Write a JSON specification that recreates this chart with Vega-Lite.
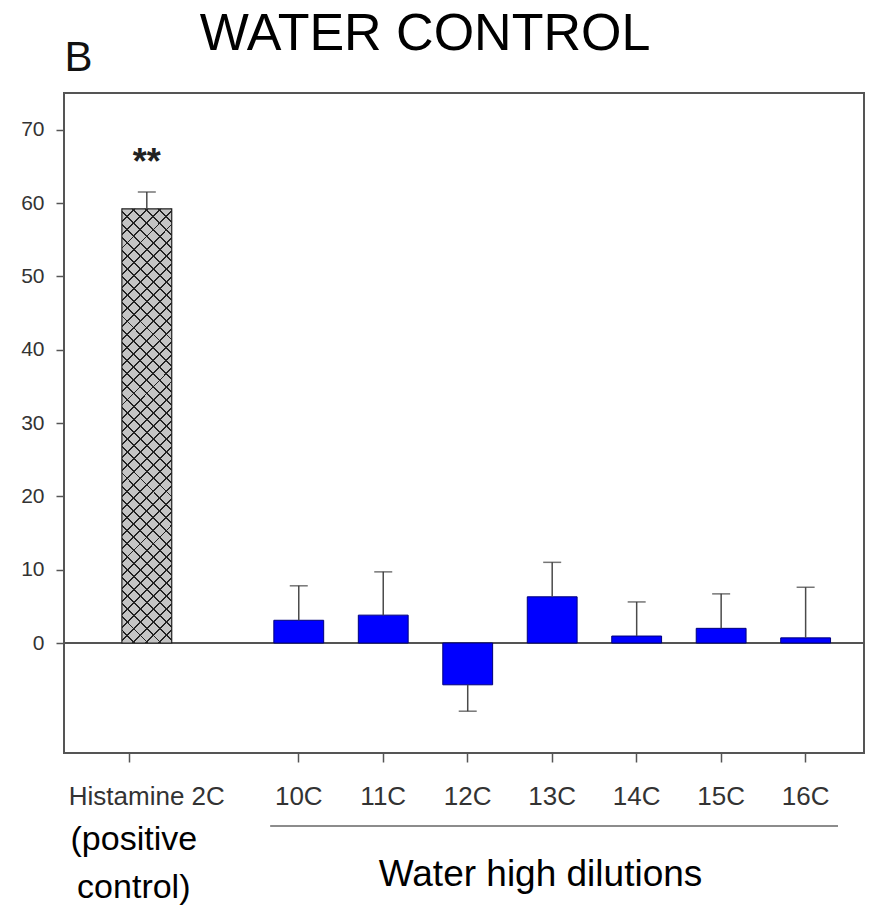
{
  "$schema": "https://vega.github.io/schema/vega-lite/v6.json",
  "width": 800,
  "height": 660,
  "autosize": {"type": "none"},
  "padding": {"left": 64, "top": 93, "right": 5, "bottom": 157},
  "background": "white",
  "title": {"text": "WATER CONTROL", "fontSize": 52, "font": "Liberation Sans", "fontWeight": "normal", "color": "black", "anchor": "middle", "frame": "group", "dx": -39, "offset": -66, "baseline": "alphabetic"},
  "config": {
    "view": {"stroke": "#555555", "strokeWidth": 2},
    "font": "Liberation Sans"
  },
  "data": {"values": [
    {"dilution": "Histamine 2C", "group": "positive", "mean": 59.2, "errEnd": 61.5, "sig": "**", "note": ["(positive", "control)"]},
    {"dilution": "10C", "group": "water", "mean": 3.1, "errEnd": 7.8, "sig": "", "note": ""},
    {"dilution": "11C", "group": "water", "mean": 3.8, "errEnd": 9.7, "sig": "", "note": ""},
    {"dilution": "12C", "group": "water", "mean": -5.7, "errEnd": -9.3, "sig": "", "note": ""},
    {"dilution": "13C", "group": "water", "mean": 6.3, "errEnd": 11.0, "sig": "", "note": ""},
    {"dilution": "14C", "group": "water", "mean": 0.95, "errEnd": 5.6, "sig": "", "note": ""},
    {"dilution": "15C", "group": "water", "mean": 2.0, "errEnd": 6.7, "sig": "", "note": ""},
    {"dilution": "16C", "group": "water", "mean": 0.7, "errEnd": 7.6, "sig": "", "note": ""}
  ]},
  "encoding": {
    "x": {
      "field": "dilution", "type": "nominal",
      "scale": {"domain": ["Histamine 2C", " ", "10C", "11C", "12C", "13C", "14C", "15C", "16C"], "paddingInner": 0.41, "paddingOuter": 0.44, "align": 0.55},
      "axis": {
        "title": "Water high dilutions", "titleFontSize": 37, "titleFontWeight": "normal", "titleColor": "black", "titleX": 476, "titleY": 132, "titleBaseline": "alphabetic", "titleAlign": "center",
        "domain": false, "tickSize": 9, "tickWidth": 1.5, "tickColor": "#555555",
        "tickOpacity": {"condition": {"test": "datum.value === ' '", "value": 0}, "value": 1},
        "labelFontSize": 26, "labelColor": "#333333", "labelAngle": 0, "labelPadding": 21, "labelOverlap": false, "labelBound": false, "labelLimit": 0,
        "labelOffset": {"condition": {"test": "datum.value === 'Histamine 2C'", "value": 17}, "value": 0}
      }
    },
    "y": {
      "field": "mean", "type": "quantitative",
      "scale": {"domain": [-15, 75], "nice": false, "zero": false},
      "axis": {
        "values": [0, 10, 20, 30, 40, 50, 60, 70], "grid": false, "domain": false,
        "tickSize": 8, "tickWidth": 1.5, "tickColor": "#555555",
        "labelFontSize": 21, "labelColor": "#333333", "labelPadding": 12,
        "title": "B", "titleAngle": 0, "titleFontSize": 42, "titleFontWeight": "normal", "titleColor": "#111111", "titleX": 14, "titleY": -23, "titleAlign": "center", "titleBaseline": "alphabetic"
      }
    }
  },
  "layer": [
    {
      "mark": {"type": "rule", "color": "#555555", "strokeWidth": 1.5},
      "encoding": {"x": null, "y": {"datum": 0, "type": "quantitative"}}
    },
    {
      "transform": [{"filter": "datum.group === 'water'"}],
      "mark": {"type": "bar", "fill": "#0000ff", "stroke": "#00007a", "strokeWidth": 1}
    },
    {
      "transform": [{"filter": "datum.group === 'positive'"}],
      "mark": {"type": "bar", "strokeWidth": 0, "xOffset": 17,
        "fill": {"gradient": "linear", "x1": 0, "y1": 0, "x2": 0.1268, "y2": 1.1006, "stops": [
          {"offset": 0, "color": "#222222"}, {"offset": 0.002, "color": "#222222"}, {"offset": 0.002, "color": "#c4c4c4"},
          {"offset": 0.02503, "color": "#c4c4c4"}, {"offset": 0.02503, "color": "#222222"}, {"offset": 0.02903, "color": "#222222"}, {"offset": 0.02903, "color": "#c4c4c4"},
          {"offset": 0.05205, "color": "#c4c4c4"}, {"offset": 0.05205, "color": "#222222"}, {"offset": 0.05605, "color": "#222222"}, {"offset": 0.05605, "color": "#c4c4c4"},
          {"offset": 0.07908, "color": "#c4c4c4"}, {"offset": 0.07908, "color": "#222222"}, {"offset": 0.08308, "color": "#222222"}, {"offset": 0.08308, "color": "#c4c4c4"},
          {"offset": 0.10611, "color": "#c4c4c4"}, {"offset": 0.10611, "color": "#222222"}, {"offset": 0.11011, "color": "#222222"}, {"offset": 0.11011, "color": "#c4c4c4"},
          {"offset": 0.13314, "color": "#c4c4c4"}, {"offset": 0.13314, "color": "#222222"}, {"offset": 0.13714, "color": "#222222"}, {"offset": 0.13714, "color": "#c4c4c4"},
          {"offset": 0.16016, "color": "#c4c4c4"}, {"offset": 0.16016, "color": "#222222"}, {"offset": 0.16416, "color": "#222222"}, {"offset": 0.16416, "color": "#c4c4c4"},
          {"offset": 0.18719, "color": "#c4c4c4"}, {"offset": 0.18719, "color": "#222222"}, {"offset": 0.19119, "color": "#222222"}, {"offset": 0.19119, "color": "#c4c4c4"},
          {"offset": 0.21422, "color": "#c4c4c4"}, {"offset": 0.21422, "color": "#222222"}, {"offset": 0.21822, "color": "#222222"}, {"offset": 0.21822, "color": "#c4c4c4"},
          {"offset": 0.24124, "color": "#c4c4c4"}, {"offset": 0.24124, "color": "#222222"}, {"offset": 0.24524, "color": "#222222"}, {"offset": 0.24524, "color": "#c4c4c4"},
          {"offset": 0.26827, "color": "#c4c4c4"}, {"offset": 0.26827, "color": "#222222"}, {"offset": 0.27227, "color": "#222222"}, {"offset": 0.27227, "color": "#c4c4c4"},
          {"offset": 0.2953, "color": "#c4c4c4"}, {"offset": 0.2953, "color": "#222222"}, {"offset": 0.2993, "color": "#222222"}, {"offset": 0.2993, "color": "#c4c4c4"},
          {"offset": 0.32232, "color": "#c4c4c4"}, {"offset": 0.32232, "color": "#222222"}, {"offset": 0.32632, "color": "#222222"}, {"offset": 0.32632, "color": "#c4c4c4"},
          {"offset": 0.34935, "color": "#c4c4c4"}, {"offset": 0.34935, "color": "#222222"}, {"offset": 0.35335, "color": "#222222"}, {"offset": 0.35335, "color": "#c4c4c4"},
          {"offset": 0.37638, "color": "#c4c4c4"}, {"offset": 0.37638, "color": "#222222"}, {"offset": 0.38038, "color": "#222222"}, {"offset": 0.38038, "color": "#c4c4c4"},
          {"offset": 0.40341, "color": "#c4c4c4"}, {"offset": 0.40341, "color": "#222222"}, {"offset": 0.40741, "color": "#222222"}, {"offset": 0.40741, "color": "#c4c4c4"},
          {"offset": 0.43043, "color": "#c4c4c4"}, {"offset": 0.43043, "color": "#222222"}, {"offset": 0.43443, "color": "#222222"}, {"offset": 0.43443, "color": "#c4c4c4"},
          {"offset": 0.45746, "color": "#c4c4c4"}, {"offset": 0.45746, "color": "#222222"}, {"offset": 0.46146, "color": "#222222"}, {"offset": 0.46146, "color": "#c4c4c4"},
          {"offset": 0.48449, "color": "#c4c4c4"}, {"offset": 0.48449, "color": "#222222"}, {"offset": 0.48849, "color": "#222222"}, {"offset": 0.48849, "color": "#c4c4c4"},
          {"offset": 0.51151, "color": "#c4c4c4"}, {"offset": 0.51151, "color": "#222222"}, {"offset": 0.51551, "color": "#222222"}, {"offset": 0.51551, "color": "#c4c4c4"},
          {"offset": 0.53854, "color": "#c4c4c4"}, {"offset": 0.53854, "color": "#222222"}, {"offset": 0.54254, "color": "#222222"}, {"offset": 0.54254, "color": "#c4c4c4"},
          {"offset": 0.56557, "color": "#c4c4c4"}, {"offset": 0.56557, "color": "#222222"}, {"offset": 0.56957, "color": "#222222"}, {"offset": 0.56957, "color": "#c4c4c4"},
          {"offset": 0.59259, "color": "#c4c4c4"}, {"offset": 0.59259, "color": "#222222"}, {"offset": 0.59659, "color": "#222222"}, {"offset": 0.59659, "color": "#c4c4c4"},
          {"offset": 0.61962, "color": "#c4c4c4"}, {"offset": 0.61962, "color": "#222222"}, {"offset": 0.62362, "color": "#222222"}, {"offset": 0.62362, "color": "#c4c4c4"},
          {"offset": 0.64665, "color": "#c4c4c4"}, {"offset": 0.64665, "color": "#222222"}, {"offset": 0.65065, "color": "#222222"}, {"offset": 0.65065, "color": "#c4c4c4"},
          {"offset": 0.67368, "color": "#c4c4c4"}, {"offset": 0.67368, "color": "#222222"}, {"offset": 0.67768, "color": "#222222"}, {"offset": 0.67768, "color": "#c4c4c4"},
          {"offset": 0.7007, "color": "#c4c4c4"}, {"offset": 0.7007, "color": "#222222"}, {"offset": 0.7047, "color": "#222222"}, {"offset": 0.7047, "color": "#c4c4c4"},
          {"offset": 0.72773, "color": "#c4c4c4"}, {"offset": 0.72773, "color": "#222222"}, {"offset": 0.73173, "color": "#222222"}, {"offset": 0.73173, "color": "#c4c4c4"},
          {"offset": 0.75476, "color": "#c4c4c4"}, {"offset": 0.75476, "color": "#222222"}, {"offset": 0.75876, "color": "#222222"}, {"offset": 0.75876, "color": "#c4c4c4"},
          {"offset": 0.78178, "color": "#c4c4c4"}, {"offset": 0.78178, "color": "#222222"}, {"offset": 0.78578, "color": "#222222"}, {"offset": 0.78578, "color": "#c4c4c4"},
          {"offset": 0.80881, "color": "#c4c4c4"}, {"offset": 0.80881, "color": "#222222"}, {"offset": 0.81281, "color": "#222222"}, {"offset": 0.81281, "color": "#c4c4c4"},
          {"offset": 0.83584, "color": "#c4c4c4"}, {"offset": 0.83584, "color": "#222222"}, {"offset": 0.83984, "color": "#222222"}, {"offset": 0.83984, "color": "#c4c4c4"},
          {"offset": 0.86286, "color": "#c4c4c4"}, {"offset": 0.86286, "color": "#222222"}, {"offset": 0.86686, "color": "#222222"}, {"offset": 0.86686, "color": "#c4c4c4"},
          {"offset": 0.88989, "color": "#c4c4c4"}, {"offset": 0.88989, "color": "#222222"}, {"offset": 0.89389, "color": "#222222"}, {"offset": 0.89389, "color": "#c4c4c4"},
          {"offset": 0.91692, "color": "#c4c4c4"}, {"offset": 0.91692, "color": "#222222"}, {"offset": 0.92092, "color": "#222222"}, {"offset": 0.92092, "color": "#c4c4c4"},
          {"offset": 0.94395, "color": "#c4c4c4"}, {"offset": 0.94395, "color": "#222222"}, {"offset": 0.94795, "color": "#222222"}, {"offset": 0.94795, "color": "#c4c4c4"},
          {"offset": 0.97097, "color": "#c4c4c4"}, {"offset": 0.97097, "color": "#222222"}, {"offset": 0.97497, "color": "#222222"}, {"offset": 0.97497, "color": "#c4c4c4"},
          {"offset": 0.998, "color": "#c4c4c4"}, {"offset": 0.998, "color": "#222222"}, {"offset": 1, "color": "#222222"}
        ]}}
    },
    {
      "transform": [{"filter": "datum.group === 'positive'"}],
      "mark": {"type": "bar", "stroke": "#222222", "strokeWidth": 1.2, "xOffset": 17,
        "fill": {"gradient": "linear", "x1": 0, "y1": 1, "x2": 0.1268, "y2": -0.1006, "stops": [
          {"offset": 0, "color": "#222222"}, {"offset": 0.002, "color": "#222222"}, {"offset": 0.002, "color": "rgba(0,0,0,0)"},
          {"offset": 0.02503, "color": "rgba(0,0,0,0)"}, {"offset": 0.02503, "color": "#222222"}, {"offset": 0.02903, "color": "#222222"}, {"offset": 0.02903, "color": "rgba(0,0,0,0)"},
          {"offset": 0.05205, "color": "rgba(0,0,0,0)"}, {"offset": 0.05205, "color": "#222222"}, {"offset": 0.05605, "color": "#222222"}, {"offset": 0.05605, "color": "rgba(0,0,0,0)"},
          {"offset": 0.07908, "color": "rgba(0,0,0,0)"}, {"offset": 0.07908, "color": "#222222"}, {"offset": 0.08308, "color": "#222222"}, {"offset": 0.08308, "color": "rgba(0,0,0,0)"},
          {"offset": 0.10611, "color": "rgba(0,0,0,0)"}, {"offset": 0.10611, "color": "#222222"}, {"offset": 0.11011, "color": "#222222"}, {"offset": 0.11011, "color": "rgba(0,0,0,0)"},
          {"offset": 0.13314, "color": "rgba(0,0,0,0)"}, {"offset": 0.13314, "color": "#222222"}, {"offset": 0.13714, "color": "#222222"}, {"offset": 0.13714, "color": "rgba(0,0,0,0)"},
          {"offset": 0.16016, "color": "rgba(0,0,0,0)"}, {"offset": 0.16016, "color": "#222222"}, {"offset": 0.16416, "color": "#222222"}, {"offset": 0.16416, "color": "rgba(0,0,0,0)"},
          {"offset": 0.18719, "color": "rgba(0,0,0,0)"}, {"offset": 0.18719, "color": "#222222"}, {"offset": 0.19119, "color": "#222222"}, {"offset": 0.19119, "color": "rgba(0,0,0,0)"},
          {"offset": 0.21422, "color": "rgba(0,0,0,0)"}, {"offset": 0.21422, "color": "#222222"}, {"offset": 0.21822, "color": "#222222"}, {"offset": 0.21822, "color": "rgba(0,0,0,0)"},
          {"offset": 0.24124, "color": "rgba(0,0,0,0)"}, {"offset": 0.24124, "color": "#222222"}, {"offset": 0.24524, "color": "#222222"}, {"offset": 0.24524, "color": "rgba(0,0,0,0)"},
          {"offset": 0.26827, "color": "rgba(0,0,0,0)"}, {"offset": 0.26827, "color": "#222222"}, {"offset": 0.27227, "color": "#222222"}, {"offset": 0.27227, "color": "rgba(0,0,0,0)"},
          {"offset": 0.2953, "color": "rgba(0,0,0,0)"}, {"offset": 0.2953, "color": "#222222"}, {"offset": 0.2993, "color": "#222222"}, {"offset": 0.2993, "color": "rgba(0,0,0,0)"},
          {"offset": 0.32232, "color": "rgba(0,0,0,0)"}, {"offset": 0.32232, "color": "#222222"}, {"offset": 0.32632, "color": "#222222"}, {"offset": 0.32632, "color": "rgba(0,0,0,0)"},
          {"offset": 0.34935, "color": "rgba(0,0,0,0)"}, {"offset": 0.34935, "color": "#222222"}, {"offset": 0.35335, "color": "#222222"}, {"offset": 0.35335, "color": "rgba(0,0,0,0)"},
          {"offset": 0.37638, "color": "rgba(0,0,0,0)"}, {"offset": 0.37638, "color": "#222222"}, {"offset": 0.38038, "color": "#222222"}, {"offset": 0.38038, "color": "rgba(0,0,0,0)"},
          {"offset": 0.40341, "color": "rgba(0,0,0,0)"}, {"offset": 0.40341, "color": "#222222"}, {"offset": 0.40741, "color": "#222222"}, {"offset": 0.40741, "color": "rgba(0,0,0,0)"},
          {"offset": 0.43043, "color": "rgba(0,0,0,0)"}, {"offset": 0.43043, "color": "#222222"}, {"offset": 0.43443, "color": "#222222"}, {"offset": 0.43443, "color": "rgba(0,0,0,0)"},
          {"offset": 0.45746, "color": "rgba(0,0,0,0)"}, {"offset": 0.45746, "color": "#222222"}, {"offset": 0.46146, "color": "#222222"}, {"offset": 0.46146, "color": "rgba(0,0,0,0)"},
          {"offset": 0.48449, "color": "rgba(0,0,0,0)"}, {"offset": 0.48449, "color": "#222222"}, {"offset": 0.48849, "color": "#222222"}, {"offset": 0.48849, "color": "rgba(0,0,0,0)"},
          {"offset": 0.51151, "color": "rgba(0,0,0,0)"}, {"offset": 0.51151, "color": "#222222"}, {"offset": 0.51551, "color": "#222222"}, {"offset": 0.51551, "color": "rgba(0,0,0,0)"},
          {"offset": 0.53854, "color": "rgba(0,0,0,0)"}, {"offset": 0.53854, "color": "#222222"}, {"offset": 0.54254, "color": "#222222"}, {"offset": 0.54254, "color": "rgba(0,0,0,0)"},
          {"offset": 0.56557, "color": "rgba(0,0,0,0)"}, {"offset": 0.56557, "color": "#222222"}, {"offset": 0.56957, "color": "#222222"}, {"offset": 0.56957, "color": "rgba(0,0,0,0)"},
          {"offset": 0.59259, "color": "rgba(0,0,0,0)"}, {"offset": 0.59259, "color": "#222222"}, {"offset": 0.59659, "color": "#222222"}, {"offset": 0.59659, "color": "rgba(0,0,0,0)"},
          {"offset": 0.61962, "color": "rgba(0,0,0,0)"}, {"offset": 0.61962, "color": "#222222"}, {"offset": 0.62362, "color": "#222222"}, {"offset": 0.62362, "color": "rgba(0,0,0,0)"},
          {"offset": 0.64665, "color": "rgba(0,0,0,0)"}, {"offset": 0.64665, "color": "#222222"}, {"offset": 0.65065, "color": "#222222"}, {"offset": 0.65065, "color": "rgba(0,0,0,0)"},
          {"offset": 0.67368, "color": "rgba(0,0,0,0)"}, {"offset": 0.67368, "color": "#222222"}, {"offset": 0.67768, "color": "#222222"}, {"offset": 0.67768, "color": "rgba(0,0,0,0)"},
          {"offset": 0.7007, "color": "rgba(0,0,0,0)"}, {"offset": 0.7007, "color": "#222222"}, {"offset": 0.7047, "color": "#222222"}, {"offset": 0.7047, "color": "rgba(0,0,0,0)"},
          {"offset": 0.72773, "color": "rgba(0,0,0,0)"}, {"offset": 0.72773, "color": "#222222"}, {"offset": 0.73173, "color": "#222222"}, {"offset": 0.73173, "color": "rgba(0,0,0,0)"},
          {"offset": 0.75476, "color": "rgba(0,0,0,0)"}, {"offset": 0.75476, "color": "#222222"}, {"offset": 0.75876, "color": "#222222"}, {"offset": 0.75876, "color": "rgba(0,0,0,0)"},
          {"offset": 0.78178, "color": "rgba(0,0,0,0)"}, {"offset": 0.78178, "color": "#222222"}, {"offset": 0.78578, "color": "#222222"}, {"offset": 0.78578, "color": "rgba(0,0,0,0)"},
          {"offset": 0.80881, "color": "rgba(0,0,0,0)"}, {"offset": 0.80881, "color": "#222222"}, {"offset": 0.81281, "color": "#222222"}, {"offset": 0.81281, "color": "rgba(0,0,0,0)"},
          {"offset": 0.83584, "color": "rgba(0,0,0,0)"}, {"offset": 0.83584, "color": "#222222"}, {"offset": 0.83984, "color": "#222222"}, {"offset": 0.83984, "color": "rgba(0,0,0,0)"},
          {"offset": 0.86286, "color": "rgba(0,0,0,0)"}, {"offset": 0.86286, "color": "#222222"}, {"offset": 0.86686, "color": "#222222"}, {"offset": 0.86686, "color": "rgba(0,0,0,0)"},
          {"offset": 0.88989, "color": "rgba(0,0,0,0)"}, {"offset": 0.88989, "color": "#222222"}, {"offset": 0.89389, "color": "#222222"}, {"offset": 0.89389, "color": "rgba(0,0,0,0)"},
          {"offset": 0.91692, "color": "rgba(0,0,0,0)"}, {"offset": 0.91692, "color": "#222222"}, {"offset": 0.92092, "color": "#222222"}, {"offset": 0.92092, "color": "rgba(0,0,0,0)"},
          {"offset": 0.94395, "color": "rgba(0,0,0,0)"}, {"offset": 0.94395, "color": "#222222"}, {"offset": 0.94795, "color": "#222222"}, {"offset": 0.94795, "color": "rgba(0,0,0,0)"},
          {"offset": 0.97097, "color": "rgba(0,0,0,0)"}, {"offset": 0.97097, "color": "#222222"}, {"offset": 0.97497, "color": "#222222"}, {"offset": 0.97497, "color": "rgba(0,0,0,0)"},
          {"offset": 0.998, "color": "rgba(0,0,0,0)"}, {"offset": 0.998, "color": "#222222"}, {"offset": 1, "color": "#222222"}
        ]}}
    },
    {
      "transform": [{"filter": "datum.group === 'water'"}],
      "mark": {"type": "rule", "color": "#4a4a4a", "strokeWidth": 1.5},
      "encoding": {"y": {"field": "mean", "type": "quantitative"}, "y2": {"field": "errEnd"}}
    },
    {
      "transform": [{"filter": "datum.group === 'water'"}],
      "mark": {"type": "tick", "color": "#3a3a3a", "thickness": 1.5, "size": 18, "orient": "horizontal"},
      "encoding": {"y": {"field": "errEnd", "type": "quantitative"}}
    },
    {
      "transform": [{"filter": "datum.group === 'positive'"}],
      "mark": {"type": "rule", "color": "#4a4a4a", "strokeWidth": 1.5, "xOffset": 17},
      "encoding": {"y": {"field": "mean", "type": "quantitative"}, "y2": {"field": "errEnd"}}
    },
    {
      "transform": [{"filter": "datum.group === 'positive'"}],
      "mark": {"type": "tick", "color": "#3a3a3a", "thickness": 1.5, "size": 18, "orient": "horizontal", "xOffset": 17},
      "encoding": {"y": {"field": "errEnd", "type": "quantitative"}}
    },
    {
      "transform": [{"filter": "datum.group === 'positive'"}],
      "mark": {"type": "text", "fontSize": 36, "fontWeight": "bold", "color": "#222222", "baseline": "alphabetic", "align": "center", "dx": 17},
      "encoding": {"y": {"datum": 64.0, "type": "quantitative"}, "text": {"field": "sig"}}
    },
    {
      "transform": [{"filter": "datum.group === 'positive'"}],
      "mark": {"type": "rule", "color": "#666666", "strokeWidth": 1.5, "xOffset": -28.6, "x2Offset": 32.4},
      "encoding": {"x": {"datum": "10C", "type": "nominal"}, "x2": {"datum": "16C"}, "y": {"datum": -24.95, "type": "quantitative"}}
    },
    {
      "transform": [{"filter": "datum.group === 'positive'"}],
      "mark": {"type": "text", "fontSize": 34, "color": "black", "align": "center", "baseline": "alphabetic", "lineHeight": 48, "dx": 4},
      "encoding": {"y": {"datum": -28.2, "type": "quantitative"}, "text": {"field": "note"}}
    }
  ]
}
